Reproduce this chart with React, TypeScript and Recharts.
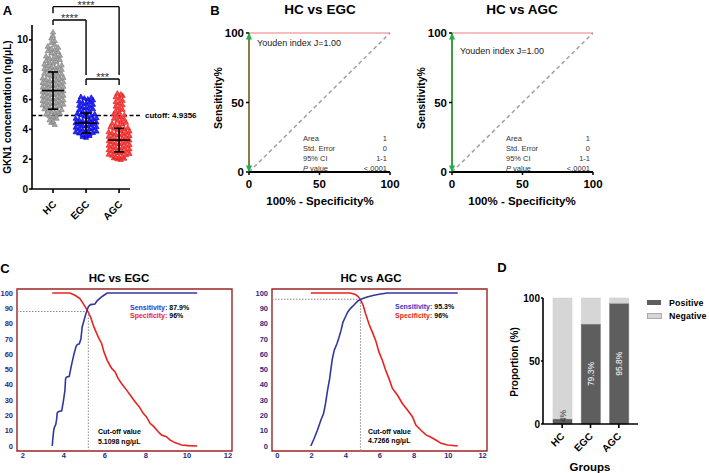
import React from 'react';
import {
  ScatterChart, Scatter, XAxis, YAxis, ReferenceLine,
  ComposedChart, Line, ReferenceArea, BarChart, Bar, LabelList,
} from 'recharts';

const FONT = '"Liberation Sans", Arial, Helvetica, sans-serif';

// ---------- A: GKN1 concentration by group ----------
const groups = ['HC', 'EGC', 'AGC'];

const hcValues = [
  4.32, 4.46, 4.55, 4.63, 4.74, 4.83, 4.9, 4.96, 5.02, 5.08,
  5.12, 5.17, 5.22, 5.27, 5.32, 5.37, 5.42, 5.46, 5.5, 5.55, 5.59, 5.63, 5.68,
  5.72, 5.76, 5.8, 5.84, 5.89, 5.93, 5.97, 6.02, 6.06, 6.1, 6.15, 6.19, 6.23, 6.28,
  6.32, 6.36, 6.41, 6.45, 6.49, 6.53, 6.58, 6.62, 6.66, 6.7, 6.75, 6.79, 6.83, 6.88,
  6.92, 6.96, 7.01, 7.05, 7.09, 7.14, 7.18, 7.22, 7.26, 7.31, 7.35, 7.39, 7.44, 7.48,
  7.52, 7.57, 7.62, 7.66, 7.71, 7.76, 7.82, 7.87, 7.92, 7.97, 8.02, 8.07,
  8.12, 8.17, 8.22, 8.27, 8.32, 8.37, 8.43, 8.49, 8.55, 8.61, 8.67,
  8.73, 8.79, 8.85, 8.91, 8.97, 9.04, 9.12, 9.2, 9.27, 9.34, 9.42, 9.5, 9.57,
  9.68, 9.82, 9.95, 10.12, 10.28, 10.52,
];
const egcValues = [
  3.46, 3.52, 3.58, 3.62, 3.66, 3.7, 3.75, 3.79, 3.83, 3.88,
  3.92, 3.96, 4.01, 4.05, 4.09, 4.14, 4.18, 4.22, 4.26, 4.31, 4.35, 4.39, 4.44, 4.48,
  4.52, 4.56, 4.61, 4.65, 4.69, 4.74, 4.78, 4.83, 4.88, 4.93, 4.98, 5.03, 5.08,
  5.13, 5.19, 5.25, 5.31, 5.37, 5.43, 5.49, 5.55, 5.61, 5.67,
  5.73, 5.79, 5.85, 5.91, 5.97, 6.03, 6.09, 6.14, 6.19,
];
const agcValues = [
  1.98, 2.02, 2.06, 2.09, 2.12, 2.16, 2.2, 2.25, 2.29, 2.33, 2.38,
  2.42, 2.46, 2.5, 2.55, 2.59, 2.63, 2.68, 2.72, 2.76, 2.8, 2.85, 2.89, 2.93, 2.98,
  3.02, 3.06, 3.1, 3.15, 3.19, 3.23, 3.28, 3.32, 3.36, 3.4, 3.45, 3.49, 3.53, 3.58,
  3.62, 3.66, 3.7, 3.75, 3.79, 3.83, 3.88, 3.92, 3.97, 4.02, 4.07, 4.12, 4.17,
  4.23, 4.29, 4.35, 4.41, 4.47, 4.53, 4.6, 4.67, 4.74, 4.83, 4.9, 4.97, 5.04,
  5.15, 5.24, 5.33, 5.45, 5.55, 5.64, 5.76, 5.85, 5.94, 6.08, 6.18, 6.27, 6.36, 6.42,
];
const groupMeans = [6.6, 4.42, 3.28];
const groupSds = [1.25, 0.67, 0.79];
const cutoff = 4.9356;

// significance brackets (group positions, heights in ng/uL)
const brackets = [
  { from: 1, to: 3, top: 12.23, leftFoot: 11.79, rightFoot: 7.65, label: '****' },
  { from: 1, to: 2, top: 11.34, leftFoot: 11.0, rightFoot: 7.65, label: '****' },
  { from: 2, to: 3, top: 7.38, leftFoot: 6.98, rightFoot: 6.98, label: '***' },
];

// ---------- B: ROC ----------
const rocFpr = [0, 0, 100];
const rocTprEgc = [0, 100, 100];
const rocTprAgc = [0, 100, 100];
const rocStats = [['Area', '1'], ['Std. Error', '0'], ['95% CI', '1-1'], ['P value', '<.0001']];

// ---------- C: sensitivity / specificity vs cut-off ----------
const sensEgc = [
  [3.43, 0], [3.46, 5], [3.5, 10], [3.53, 12], [3.6, 14], [3.64, 17], [3.67, 21.5], [3.72, 22.4],
  [3.89, 23], [3.97, 29], [4.05, 36.5], [4.08, 44], [4.12, 45], [4.26, 45.5], [4.37, 53], [4.49, 60],
  [4.59, 65], [4.65, 66.3], [4.75, 66.8], [4.83, 70], [4.89, 77.8], [4.98, 82], [5.07, 86.5],
  [5.19, 91], [5.3, 92.4], [5.51, 92.8], [5.63, 95], [5.79, 97], [5.95, 98.5], [6.11, 100], [10.5, 100],
];
const specEgc = [
  [3.43, 100], [4.29, 100], [4.54, 98.5], [4.78, 96.3], [4.94, 93], [5.14, 88.7], [5.3, 84.3],
  [5.46, 77.8], [5.67, 71.3], [5.84, 67], [5.95, 61.5], [6.11, 56], [6.33, 50.7], [6.49, 48.5],
  [6.65, 44], [6.86, 39.8], [7.06, 36.5], [7.3, 32], [7.46, 29], [7.67, 25.7], [7.87, 21.3],
  [8.03, 19], [8.2, 14.8], [8.39, 12.6], [8.6, 9.3], [8.76, 7.2], [9.0, 6], [9.17, 4],
  [9.41, 2.2], [9.74, 0.65], [10.07, 0.2], [10.5, 0],
];
const sensAgc = [
  [1.96, 0], [2.16, 5], [2.35, 10.4], [2.55, 17], [2.71, 21.3], [2.82, 27.8], [2.94, 36.5],
  [3.06, 44], [3.14, 50.7], [3.22, 57], [3.33, 62.6], [3.49, 67], [3.61, 71], [3.73, 75.7],
  [3.84, 81], [3.98, 84.3], [4.12, 87.6], [4.27, 89.8], [4.47, 92], [4.71, 94.8], [4.96, 96.3],
  [5.25, 97.4], [5.65, 98.5], [6.04, 99.3], [6.43, 100], [10.55, 100],
];
const specAgc = [
  [1.96, 100], [4.27, 100], [4.57, 99], [4.71, 97.8], [4.86, 95.7], [5.02, 92], [5.16, 86.5],
  [5.35, 80], [5.55, 74.6], [5.75, 69], [5.94, 61.5], [6.14, 56], [6.33, 49.6], [6.53, 44],
  [6.73, 37.6], [7.02, 33.3], [7.31, 27.8], [7.61, 23.5], [7.9, 19.1], [8.1, 13.7], [8.39, 10.4],
  [8.69, 7.2], [8.98, 5.7], [9.27, 3.9], [9.57, 1.7], [9.96, 0.65], [10.55, 0],
];
const cutEgc = { x: 5.19, y: 87.9 };
const cutAgc = { x: 4.86, y: 95.9 };

// ---------- D: proportion positive ----------
const positiveRate = [4, 79.3, 95.8];

// ---------- helpers ----------
const BIN = 0.3;
const STEP = 0.105;

function swarm(values: number[], pos: number) {
  const bins: Record<string, number[]> = {};
  values.forEach((v) => {
    const k = String(Math.floor(v / BIN + 1e-6));
    (bins[k] = bins[k] || []).push(v);
  });
  const pts: { x: number; y: number }[] = [];
  Object.values(bins).forEach((list) => {
    const n = list.length;
    list.forEach((v, i) => {
      // centre-out slot order
      const slot = i % 2 === 0 ? i / 2 : -(i + 1) / 2;
      const shift = n % 2 === 0 ? 0.5 : 0;
      pts.push({ x: pos + (slot + shift) * STEP, y: v });
    });
  });
  return pts;
}

const triangle = (stroke: string, fill: string) => (p: any) => (
  <path
    d={`M${p.cx},${p.cy - 2.7}L${p.cx + 2.6},${p.cy + 1.9}L${p.cx - 2.6},${p.cy + 1.9}Z`}
    fill={fill}
    stroke={stroke}
    strokeWidth={0.7}
  />
);

const hLine = (half: number) => (p: any) => (
  <line x1={p.cx - half} x2={p.cx + half} y1={p.cy} y2={p.cy} stroke="#000" strokeWidth={1.6} />
);

const slantTick = (dx: number, dy: number, fs: number, label: (v: any) => string) => (p: any) => {
  const x = p.x + dx;
  const y = p.y + dy;
  return (
    <text x={x} y={y} textAnchor="end" transform={`rotate(-45 ${x} ${y})`} fontSize={fs}
      fontWeight="bold" fill="#000" fontFamily={FONT}>
      {label(p.payload.value)}
    </text>
  );
};

const rocMarker = (p: any) => {
  const { cx, cy, payload, index } = p;
  const up = payload.y >= 100;
  const d = up
    ? `M${cx},${cy - 0.5}L${cx + 3},${cy + 6.5}L${cx - 3},${cy + 6.5}Z`
    : `M${cx},${cy + 0.5}L${cx + 3},${cy - 6.5}L${cx - 3},${cy - 6.5}Z`;
  return <path key={`m${index}`} d={d} fill="#1fae4a" />;
};

type TxtProps = {
  x: number; y: number; size?: number; bold?: boolean; color?: string;
  anchor?: 'start' | 'middle' | 'end'; rotate?: number; spacing?: number; children: React.ReactNode;
};
function Txt({ x, y, size = 10, bold = true, color = '#000', anchor = 'start', rotate = 0, spacing = 0, children }: TxtProps) {
  const tx = anchor === 'start' ? '0' : anchor === 'middle' ? '-50%' : '-100%';
  return (
    <div style={{
      position: 'absolute', left: x, top: y,
      transform: `translate(${tx},-50%)${rotate ? ` rotate(${rotate}deg)` : ''}`,
      fontSize: size, fontWeight: bold ? 700 : 400, color, whiteSpace: 'nowrap',
      lineHeight: 1, fontFamily: FONT, letterSpacing: spacing,
    }}>
      {children}
    </div>
  );
}

const axisBlack = { stroke: '#000', strokeWidth: 1.6 };
const seg = (x1: number, y1: number, x2: number, y2: number) => [{ x: x1, y: y1 }, { x: x2, y: y2 }];

// ---------- panels ----------
function PanelA() {
  const colors = [
    ['#808080', '#a8a8a8'],
    ['#0000d0', '#2b2bff'],
    ['#e02020', '#ff4848'],
  ];
  const sets = [hcValues, egcValues, agcValues];
  const meanData = groups.map((g, i) => ({ x: i + 1, y: groupMeans[i] }));
  return (
    <div style={{ position: 'absolute', left: 0, top: 0 }}>
      <ScatterChart width={205} height={240} margin={{ top: 25, right: 75, bottom: 21, left: 0 }}>
        <XAxis type="number" dataKey="x" domain={[0.364, 3.33]} ticks={[1, 2, 3]} height={30}
          axisLine={axisBlack} tickLine={axisBlack} tickSize={4} tickMargin={2} interval={0}
          tick={slantTick(4, 10, 10, (v) => groups[v - 1])} />
        <YAxis type="number" dataKey="y" domain={[0, 11]} ticks={[0, 2, 4, 6, 8, 10]} width={32}
          axisLine={axisBlack} tickLine={axisBlack} tickSize={3} tickMargin={1} interval={0}
          tick={{ fontSize: 10, fontWeight: 'bold', fill: '#000', fontFamily: FONT }} />
        {sets.map((vals, i) => (
          <Scatter key={groups[i]} data={swarm(vals, i + 1)} shape={triangle(colors[i][0], colors[i][1])}
            isAnimationActive={false} />
        ))}
        {groups.map((g, i) => (
          <Scatter key={`sd${g}`}
            data={[{ x: i + 1, y: groupMeans[i] - groupSds[i] }, { x: i + 1, y: groupMeans[i] + groupSds[i] }]}
            line={{ stroke: '#000', strokeWidth: 1.6 }} shape={hLine(5)} isAnimationActive={false} />
        ))}
        <Scatter data={meanData} shape={hLine(11)} isAnimationActive={false} />
        <ReferenceLine segment={seg(0.364, cutoff, 3.67, cutoff)} stroke="#000"
          strokeWidth={1.5} strokeDasharray="4 2.5" ifOverflow="visible" />
        {brackets.map((b, i) => (
          <React.Fragment key={i}>
            <ReferenceLine segment={seg(b.from, b.leftFoot, b.from, b.top)}
              stroke="#000" strokeWidth={1.4} ifOverflow="visible" />
            <ReferenceLine segment={seg(b.from, b.top, b.to, b.top)}
              stroke="#000" strokeWidth={1.4} ifOverflow="visible"
              label={{ value: b.label, position: 'top', offset: -2, fontSize: 11, fill: '#333', fontFamily: FONT }} />
            <ReferenceLine segment={seg(b.to, b.top, b.to, b.rightFoot)}
              stroke="#000" strokeWidth={1.4} ifOverflow="visible" />
          </React.Fragment>
        ))}
      </ScatterChart>
    </div>
  );
}

function RocPanel({ left, tpr, rocColor }: { left: number; tpr: number[]; rocColor: string }) {
  const roc = rocFpr.map((x, i) => ({ x, y: tpr[i] }));
  const tickStyle = { fontSize: 11.5, fontWeight: 'bold', fill: '#000', fontFamily: FONT };
  return (
    <div style={{ position: 'absolute', left, top: 0 }}>
      <ComposedChart width={220} height={215} margin={{ top: 33, right: 10, bottom: 13, left: 39 }}>
        <XAxis type="number" dataKey="x" domain={[0, 100]} ticks={[0, 50, 100]} height={30} interval={0}
          axisLine={{ stroke: '#000', strokeWidth: 2 }} tickLine={{ stroke: '#000', strokeWidth: 1.5 }}
          tickSize={3} tickMargin={5} tick={tickStyle} />
        <YAxis type="number" dataKey="y" domain={[0, 100]} ticks={[0, 50, 100]} width={30} interval={0}
          axisLine={false} tickLine={{ stroke: '#000', strokeWidth: 1.5 }}
          tickSize={3} tickMargin={2} tick={tickStyle} />
        <ReferenceLine segment={seg(0, 0, 100, 100)} stroke="#a0a0a0"
          strokeWidth={1.5} strokeDasharray="4 3" />
        <Line data={roc} dataKey="y" stroke="#f07a7a" strokeWidth={1.1} dot={false} isAnimationActive={false} />
        <Line data={roc.slice(0, 2)} dataKey="y" stroke={rocColor} strokeWidth={2} dot={rocMarker}
          isAnimationActive={false} />
      </ComposedChart>
    </div>
  );
}

const BOX = '#9a2424';
const NAVY = '#2a2a82';
const C_Y_DOMAIN: [number, number] = [-3.3, 102.6];
const yMajor = [0, 10, 20, 30, 40, 50, 60, 70, 80, 90, 100];
const yMinor = [0, 5, 10, 15, 20, 25, 30, 35, 40, 45, 50, 55, 60, 65, 70, 75, 80, 85, 90, 95, 100];

function CurvePanel({ left, sens, spec, xDomain, xTicks, xMinor, cut }: {
  left: number; sens: number[][]; spec: number[][]; xDomain: [number, number];
  xTicks: number[]; xMinor: number[]; cut: { x: number; y: number };
}) {
  const toXY = (a: number[][]) => a.map(([x, y]) => ({ x, y }));
  const tickStyle = { fontSize: 7.5, fontWeight: 'bold', fill: NAVY, fontFamily: FONT };
  return (
    <div style={{ position: 'absolute', left, top: 260 }}>
      <ComposedChart width={240} height={205} margin={{ top: 29, right: 8, bottom: 0, left: 0 }}>
        <XAxis type="number" dataKey="x" domain={xDomain} ticks={xTicks} height={14} interval={0}
          axisLine={false} tickLine={false} tickSize={1} tickMargin={1} tick={tickStyle} />
        <XAxis xAxisId="minor" type="number" dataKey="x" domain={xDomain} ticks={xMinor} mirror interval={0}
          allowDataOverflow tick={false} axisLine={false} tickLine={{ stroke: BOX, strokeWidth: 1 }} tickSize={3} />
        <YAxis type="number" dataKey="y" domain={C_Y_DOMAIN} ticks={yMajor} width={17} interval={0}
          axisLine={false} tickLine={false} tickSize={2} tickMargin={2} tick={tickStyle} />
        <YAxis yAxisId="minor" type="number" dataKey="y" domain={C_Y_DOMAIN} ticks={yMinor} mirror interval={0}
          allowDataOverflow tick={false} axisLine={false} tickLine={{ stroke: BOX, strokeWidth: 1 }} tickSize={3} />
        <ReferenceArea x1={xDomain[0]} x2={xDomain[1]} y1={C_Y_DOMAIN[0]} y2={C_Y_DOMAIN[1]}
          fill="none" fillOpacity={0} stroke={BOX} strokeWidth={1.4} ifOverflow="visible" />
        <ReferenceLine segment={seg(xDomain[0], cut.y, cut.x, cut.y)}
          stroke="#8a8a8a" strokeWidth={1} strokeDasharray="1.5 1.5" />
        <ReferenceLine segment={seg(cut.x, cut.y, cut.x, C_Y_DOMAIN[0])}
          stroke="#8a8a8a" strokeWidth={1} strokeDasharray="1.5 1.5" />
        <Line data={toXY(spec)} dataKey="y" stroke="#e8231f" strokeWidth={1.6} dot={false} isAnimationActive={false} />
        <Line data={toXY(sens)} dataKey="y" stroke="#3137a0" strokeWidth={1.6} dot={false} isAnimationActive={false} />
      </ComposedChart>
    </div>
  );
}

const barLabel = (p: any) => {
  const { x, y, width, height, value } = p;
  const cx = x + width / 2;
  const cy = Math.min(y + height / 2, y + height - 8);
  const small = value < 10;
  return (
    <text x={cx} y={cy} transform={`rotate(-90 ${cx} ${cy})`} textAnchor="middle" dominantBaseline="central"
      fontSize={8.5} fill={small ? '#3a3a3a' : '#fff'} fontFamily={FONT}>
      {`${value}%`}
    </text>
  );
};

function PanelD() {
  const data = groups.map((g, i) => ({
    group: g,
    positive: positiveRate[i],
    negative: Math.round((100 - positiveRate[i]) * 10) / 10,
  }));
  return (
    <div style={{ position: 'absolute', left: 490, top: 250 }}>
      <BarChart width={219} height={223} data={data} barSize={19}
        margin={{ top: 48, right: 71, bottom: 14, left: 23 }}>
        <XAxis dataKey="group" height={35} padding={{ left: 5, right: 5 }} interval={0}
          axisLine={axisBlack} tickLine={axisBlack} tickSize={4} tickMargin={2}
          tick={slantTick(3, 7, 10, (v) => String(v))} />
        <YAxis type="number" domain={[0, 100]} ticks={[0, 50, 100]} width={30} interval={0}
          axisLine={axisBlack} tickLine={axisBlack} tickSize={2} tickMargin={1}
          tick={{ fontSize: 10, fontWeight: 'bold', fill: '#000', fontFamily: FONT }} />
        <Bar dataKey="positive" stackId="s" fill="#5e5e5e" stroke="#555" strokeWidth={0.5} isAnimationActive={false}>
          <LabelList dataKey="positive" content={barLabel} />
        </Bar>
        <Bar dataKey="negative" stackId="s" fill="#d6d6d6" stroke="#c8c8c8" strokeWidth={0.5} isAnimationActive={false} />
      </BarChart>
    </div>
  );
}

function StatsTable({ left, right }: { left: number; right: number }) {
  const rows = [139, 149, 159, 169];
  return (
    <>
      {rocStats.map(([k, v], i) => (
        <React.Fragment key={k}>
          <Txt x={left} y={rows[i]} size={7.5} bold={false} color="#333">
            {k === 'P value' ? <><i>P</i> value</> : k}
          </Txt>
          <Txt x={right} y={rows[i]} size={7.5} bold={false} color="#333" anchor="end">{v}</Txt>
        </React.Fragment>
      ))}
    </>
  );
}

export default function App() {
  return (
    <div style={{
      position: 'absolute', left: 0, top: 0, width: 709, height: 473,
      background: '#fff', overflow: 'hidden', fontFamily: FONT,
    }}>
      <PanelA />
      <RocPanel left={180} tpr={rocTprEgc} rocColor="#8c7a48" />
      <RocPanel left={383} tpr={rocTprAgc} rocColor="#3f9e3f" />
      <CurvePanel left={0} sens={sensEgc} spec={specEgc} xDomain={[1.71, 12.2]}
        xTicks={[2, 4, 6, 8, 10, 12]} xMinor={[2, 3, 4, 5, 6, 7, 8, 9, 10, 11, 12]} cut={cutEgc} />
      <CurvePanel left={255} sens={sensAgc} spec={specAgc} xDomain={[-0.31, 12.26]}
        xTicks={[0, 2, 4, 6, 8, 10, 12]} xMinor={[0, 1, 2, 3, 4, 5, 6, 7, 8, 9, 10, 11, 12]} cut={cutAgc} />
      <PanelD />

      {/* panel letters */}
      <Txt x={7.5} y={10} size={13} anchor="middle">A</Txt>
      <Txt x={215} y={10} size={13} anchor="middle">B</Txt>
      <Txt x={5} y={268} size={13} anchor="middle">C</Txt>
      <Txt x={502} y={267} size={13} anchor="middle">D</Txt>

      {/* A */}
      <Txt x={8} y={107} size={10} anchor="middle" rotate={-90}>GKN1 concentration (ng/μL)</Txt>
      <Txt x={145} y={116} size={8}>cutoff: 4.9356</Txt>

      {/* B */}
      <Txt x={320} y={10} size={13.5} anchor="middle">HC vs EGC</Txt>
      <Txt x={522} y={10} size={13.5} anchor="middle">HC vs AGC</Txt>
      <Txt x={218} y={98} size={10.5} anchor="middle" rotate={-90}>Sensitivity%</Txt>
      <Txt x={421} y={98} size={10.5} anchor="middle" rotate={-90}>Sensitivity%</Txt>
      <Txt x={320} y={202} size={11.5} anchor="middle">100% - Specificity%</Txt>
      <Txt x={522} y={202} size={11.5} anchor="middle">100% - Specificity%</Txt>
      <Txt x={257} y={43} size={9} bold={false} color="#222">Youden index J=1.00</Txt>
      <Txt x={460} y={51} size={9} bold={false} color="#222">Youden index J=1.00</Txt>
      <StatsTable left={303} right={387} />
      <StatsTable left={506} right={590} />

      {/* C */}
      <Txt x={119} y={279} size={11.5} anchor="middle">HC vs EGC</Txt>
      <Txt x={371} y={279} size={11.5} anchor="middle">HC vs AGC</Txt>
      <Txt x={130} y={307} size={7}><span style={{ color: '#3535c8' }}>Sensitivity:</span> 87.9%</Txt>
      <Txt x={130} y={315} size={7}><span style={{ color: '#e8231f' }}>Specificity:</span> 96%</Txt>
      <Txt x={98} y={431} size={7}>Cut-off value</Txt>
      <Txt x={98} y={441} size={7}>5.1098 ng/μL</Txt>
      <Txt x={395} y={306} size={7}><span style={{ color: '#3535c8' }}>Sensitivity:</span> 95.3%</Txt>
      <Txt x={395} y={315} size={7}><span style={{ color: '#e8231f' }}>Specificity:</span> 96%</Txt>
      <Txt x={368} y={431} size={7}>Cut-off value</Txt>
      <Txt x={368} y={440} size={7}>4.7266 ng/μL</Txt>

      {/* D */}
      <Txt x={515} y={362} size={10} anchor="middle" rotate={-90}>Proportion (%)</Txt>
      <Txt x={590} y={468} size={11.5} anchor="middle">Groups</Txt>
      <div style={{ position: 'absolute', left: 647, top: 300, width: 14, height: 5, background: '#5e5e5e' }} />
      <div style={{ position: 'absolute', left: 647, top: 313, width: 13, height: 4, background: '#d6d6d6', border: '0.5px solid #aaa' }} />
      <Txt x={669} y={303} size={8.8} spacing={0.1}>Positive</Txt>
      <Txt x={669} y={316} size={8.8} spacing={0.1}>Negative</Txt>
    </div>
  );
}
